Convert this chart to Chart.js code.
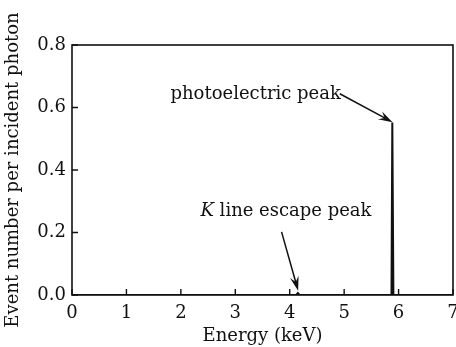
<!DOCTYPE html>
<html>
<head>
<meta charset="utf-8">
<script src="https://cdn.jsdelivr.net/npm/chart.js@4"></script>
<style>
  html, body { margin: 0; padding: 0; background: #fff; }
  #wrap { width: 456px; height: 347px; }
</style>
</head>
<body>
<div id="wrap"><canvas id="chartCanvas" width="456" height="347"></canvas></div>
<script>
// spectrum (energy in keV, events per photon)
const energy = [0, 4.12, 4.15, 4.18, 5.87, 5.885, 5.895, 5.905, 7];
const events = [0, 0, 0.006, 0, 0, 0.552, 0.552, 0, 0];

const xTicks = [0, 1, 2, 3, 4, 5, 6, 7];
const yTicks = [0, 0.2, 0.4, 0.6, 0.8];

// annotations: text, text anchor and arrow (data units)
const notes = [
  { text: "photoelectric peak", italic: "", x: 4.94, y: 0.641, align: "right",
    from: [4.92, 0.644], to: [5.89, 0.553] },
  { text: " line escape peak", italic: "K", x: 2.36, y: 0.269, align: "left",
    from: [3.85, 0.202], to: [4.155, 0.014] }
];

const serif = "'DejaVu Serif', serif";
const ink = "#111";
const fsize = 18;

const frameAndTicks = {
  id: "frameAndTicks",
  afterDatasetsDraw(chart) {
    const { ctx, chartArea: a, scales } = chart;
    ctx.save();
    ctx.strokeStyle = ink;
    ctx.lineWidth = 1.6;
    ctx.strokeRect(a.left, a.top, a.right - a.left, a.bottom - a.top);
    ctx.lineWidth = 1.4;
    ctx.beginPath();
    xTicks.forEach((v) => {
      const px = scales.x.getPixelForValue(v);
      ctx.moveTo(px, a.bottom);
      ctx.lineTo(px, a.bottom - 6);
    });
    yTicks.forEach((v) => {
      const py = scales.y.getPixelForValue(v);
      ctx.moveTo(a.left, py);
      ctx.lineTo(a.left + 6, py);
    });
    ctx.stroke();

    // labels with arrows
    notes.forEach((n) => {
      const tx = scales.x.getPixelForValue(n.x);
      const ty = scales.y.getPixelForValue(n.y);
      ctx.fillStyle = ink;
      ctx.textBaseline = "middle";
      ctx.font = fsize + "px " + serif;
      if (n.align === "right") {
        ctx.textAlign = "right";
        ctx.fillText(n.text, tx, ty);
      } else {
        ctx.textAlign = "left";
        ctx.font = "italic " + fsize + "px " + serif;
        ctx.fillText(n.italic, tx, ty);
        const w = ctx.measureText(n.italic).width;
        ctx.font = fsize + "px " + serif;
        ctx.fillText(n.text, tx + w, ty);
      }
      const x0 = scales.x.getPixelForValue(n.from[0]);
      const y0 = scales.y.getPixelForValue(n.from[1]);
      const x1 = scales.x.getPixelForValue(n.to[0]);
      const y1 = scales.y.getPixelForValue(n.to[1]);
      const ang = Math.atan2(y1 - y0, x1 - x0);
      const len = 15;
      ctx.lineWidth = 1.5;
      ctx.beginPath();
      ctx.moveTo(x0, y0);
      ctx.lineTo(x1 - Math.cos(ang) * 8, y1 - Math.sin(ang) * 8);
      ctx.stroke();
      ctx.beginPath();
      ctx.moveTo(x1, y1);
      ctx.lineTo(x1 - len * Math.cos(ang - 0.3), y1 - len * Math.sin(ang - 0.3));
      ctx.lineTo(x1 - len * 0.6 * Math.cos(ang), y1 - len * 0.6 * Math.sin(ang));
      ctx.lineTo(x1 - len * Math.cos(ang + 0.3), y1 - len * Math.sin(ang + 0.3));
      ctx.closePath();
      ctx.fill();
    });
    ctx.restore();
  }
};

new Chart(document.getElementById("chartCanvas"), {
  type: "line",
  data: {
    datasets: [{
      data: energy.map((e, i) => ({ x: e, y: events[i] })),
      borderColor: ink,
      borderWidth: 2,
      pointRadius: 0,
      tension: 0,
      fill: false
    }]
  },
  options: {
    responsive: false,
    animation: false,
    layout: { padding: { top: 45, right: 3, left: 0, bottom: 0 } },
    plugins: { legend: { display: false }, tooltip: { enabled: false } },
    scales: {
      x: {
        type: "linear",
        min: 0,
        max: 7,
        afterBuildTicks: (s) => { s.ticks = xTicks.map((v) => ({ value: v })); },
        afterFit: (s) => { s.height = 52; s.paddingRight = 0; s.paddingLeft = 0; },
        grid: { display: false, drawTicks: false },
        border: { display: false },
        ticks: { color: ink, font: { family: serif, size: fsize }, padding: 8, maxRotation: 0 },
        title: {
          display: true,
          text: "Energy (keV)",
          color: ink,
          font: { family: serif, size: fsize },
          padding: { top: 0, bottom: 0 }
        }
      },
      y: {
        type: "linear",
        min: 0,
        max: 0.8,
        afterBuildTicks: (s) => { s.ticks = yTicks.map((v) => ({ value: v })); },
        afterFit: (s) => { s.width = 72; s.paddingTop = 0; s.paddingBottom = 0; },
        grid: { display: false, drawTicks: false },
        border: { display: false },
        ticks: {
          color: ink,
          font: { family: serif, size: fsize },
          padding: 6,
          callback: (v) => Number(v).toFixed(1)
        },
        title: {
          display: true,
          text: "Event number per incident photon",
          color: ink,
          font: { family: serif, size: fsize },
          padding: { top: 3, bottom: 0 }
        }
      }
    }
  },
  plugins: [frameAndTicks]
});
</script>
</body>
</html>
